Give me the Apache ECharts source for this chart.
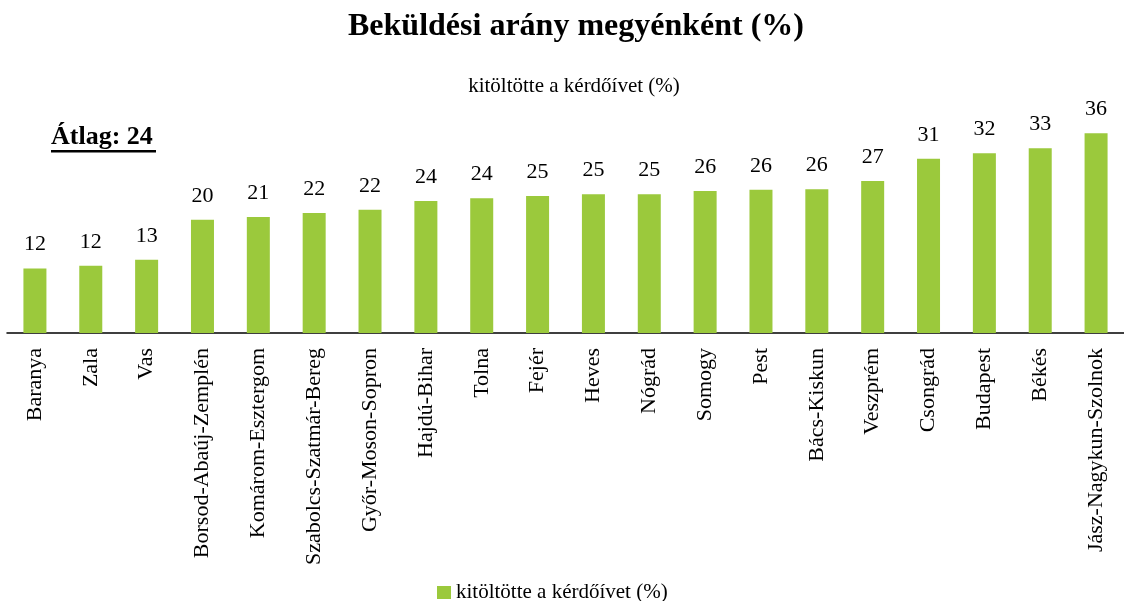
<!DOCTYPE html>
<html>
<head>
<meta charset="utf-8">
<script src="https://cdn.jsdelivr.net/npm/echarts@6/dist/echarts.min.js"></script>
<style>
	html, body { margin: 0; padding: 0; background: #fff; }
	#chart { width: 1124px; height: 601px; }
</style>
</head>
<body>
<div id="chart"></div>
<script>
	const seriesName = 'kitöltötte a kérdőívet (%)'
	const counties = [
		'Baranya', 'Zala', 'Vas', 'Borsod-Abaúj-Zemplén', 'Komárom-Esztergom',
		'Szabolcs-Szatmár-Bereg', 'Győr-Moson-Sopron', 'Hajdú-Bihar', 'Tolna', 'Fejér',
		'Heves', 'Nógrád', 'Somogy', 'Pest', 'Bács-Kiskun',
		'Veszprém', 'Csongrád', 'Budapest', 'Békés', 'Jász-Nagykun-Szolnok'
	]
	const rates = [
		11.6, 12.1, 13.2, 20.4, 20.9,
		21.6, 22.2, 23.8, 24.3, 24.7,
		25.0, 25.0, 25.6, 25.8, 25.9,
		27.4, 31.4, 32.4, 33.3, 36.0
	]
	const average = 24

	const serif = '"Liberation Serif", "Times New Roman", serif'
	const green = '#9BC93C'

	const dom = document.getElementById('chart')
	const myChart = echarts.init(dom)
	const option = {
		animation: false,
		textStyle: { fontFamily: serif },
		title: [
			{
				text: 'Beküldési arány megyénként (%)',
				left: 571,
				top: 6,
				textAlign: 'center',
				textStyle: { fontFamily: serif, fontSize: 32, fontWeight: 'bold', color: '#000' }
			},
			{
				text: seriesName,
				left: 569,
				top: 71,
				textAlign: 'center',
				textStyle: { fontFamily: serif, fontSize: 21, fontWeight: 'normal', color: '#000' }
			}
		],
		graphic: [
			{
				type: 'text',
				left: 51,
				top: 124,
				style: { text: 'Átlag: ' + average, font: 'bold 26px ' + serif, fill: '#000' }
			},
			{
				type: 'rect',
				left: 51,
				top: 150,
				shape: { width: 105, height: 2.5 },
				style: { fill: '#000' }
			}
		],
		legend: {
			top: 582,
			left: 437,
			padding: 0,
			itemWidth: 14,
			itemHeight: 13,
			itemGap: 6,
			icon: 'rect',
			textStyle: { fontFamily: serif, fontSize: 21, color: '#000' },
			data: [seriesName]
		},
		grid: {
			left: 7,
			top: 111,
			width: 1124,
			bottom: 268,
			containLabel: false
		},
		xAxis: {
			type: 'category',
			data: counties,
			axisTick: { show: false },
			axisLine: { show: true, lineStyle: { color: '#000', width: 1.5 } },
			axisLabel: {
				interval: 0,
				rotate: 90,
				margin: 15,
				fontFamily: serif,
				fontSize: 22,
				color: '#000'
			}
		},
		yAxis: {
			type: 'value',
			min: 0,
			max: 40,
			show: false,
			splitLine: { show: false }
		},
		series: [
			{
				name: seriesName,
				type: 'bar',
				data: rates,
				barWidth: 23,
				itemStyle: { color: green },
				label: {
					show: true,
					position: 'top',
					distance: 13,
					fontFamily: serif,
					fontSize: 22,
					color: '#000',
					formatter: function(p) {
						return Math.round(p.value)
					}
				}
			}
		]
	}
	myChart.setOption(option)
</script>
</body>
</html>
